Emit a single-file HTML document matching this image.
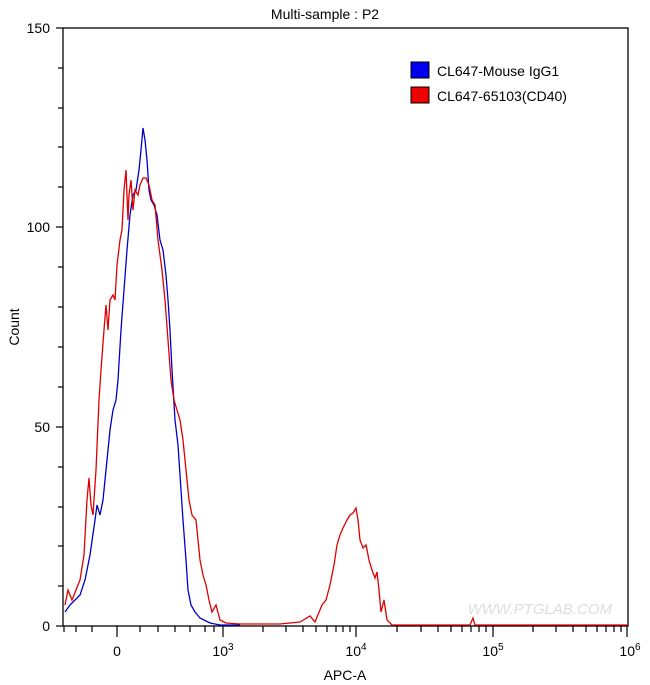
<!DOCTYPE html>
<html><head><style>body{margin:0;background:#fff}svg{display:block;font-family:"Liberation Sans",sans-serif}</style></head><body>
<svg width="650" height="685" viewBox="0 0 650 685">
<rect width="650" height="685" fill="#fff"/>
<text x="325" y="19" font-size="14" text-anchor="middle">Multi-sample : P2</text>
<rect x="63" y="28" width="565" height="598" fill="none" stroke="#000" stroke-width="1.3"/>
<g stroke="#000" stroke-width="1.2">
<line x1="56" y1="626" x2="63" y2="626"/><line x1="56" y1="427" x2="63" y2="427"/><line x1="56" y1="227" x2="63" y2="227"/><line x1="56" y1="28" x2="63" y2="28"/>
<line x1="58" y1="586" x2="63" y2="586"/><line x1="58" y1="546" x2="63" y2="546"/><line x1="58" y1="507" x2="63" y2="507"/><line x1="58" y1="467" x2="63" y2="467"/>
<line x1="58" y1="387" x2="63" y2="387"/><line x1="58" y1="347" x2="63" y2="347"/><line x1="58" y1="307" x2="63" y2="307"/><line x1="58" y1="267" x2="63" y2="267"/>
<line x1="58" y1="187" x2="63" y2="187"/><line x1="58" y1="147" x2="63" y2="147"/><line x1="58" y1="108" x2="63" y2="108"/><line x1="58" y1="68" x2="63" y2="68"/>
<line x1="117" y1="626" x2="117" y2="637"/><line x1="223" y1="626" x2="223" y2="637"/><line x1="356" y1="626" x2="356" y2="637"/><line x1="493" y1="626" x2="493" y2="637"/><line x1="627" y1="626" x2="627" y2="637"/>
<line x1="64" y1="626" x2="64" y2="632"/><line x1="76" y1="626" x2="76" y2="632"/><line x1="92" y1="626" x2="92" y2="632"/><line x1="140" y1="626" x2="140" y2="632"/><line x1="158" y1="626" x2="158" y2="632"/><line x1="175" y1="626" x2="175" y2="632"/><line x1="190" y1="626" x2="190" y2="632"/><line x1="205" y1="626" x2="205" y2="632"/><line x1="214" y1="626" x2="214" y2="632"/>
<line x1="263" y1="626" x2="263" y2="632"/><line x1="286" y1="626" x2="286" y2="632"/><line x1="303" y1="626" x2="303" y2="632"/><line x1="316" y1="626" x2="316" y2="632"/><line x1="327" y1="626" x2="327" y2="632"/><line x1="336" y1="626" x2="336" y2="632"/><line x1="343" y1="626" x2="343" y2="632"/><line x1="350" y1="626" x2="350" y2="632"/>
<line x1="397" y1="626" x2="397" y2="632"/><line x1="421" y1="626" x2="421" y2="632"/><line x1="438" y1="626" x2="438" y2="632"/><line x1="451" y1="626" x2="451" y2="632"/><line x1="462" y1="626" x2="462" y2="632"/><line x1="471" y1="626" x2="471" y2="632"/><line x1="479" y1="626" x2="479" y2="632"/><line x1="486" y1="626" x2="486" y2="632"/>
<line x1="533" y1="626" x2="533" y2="632"/><line x1="556" y1="626" x2="556" y2="632"/><line x1="573" y1="626" x2="573" y2="632"/><line x1="586" y1="626" x2="586" y2="632"/><line x1="597" y1="626" x2="597" y2="632"/><line x1="606" y1="626" x2="606" y2="632"/><line x1="614" y1="626" x2="614" y2="632"/><line x1="621" y1="626" x2="621" y2="632"/>
</g>
<g font-size="14" text-anchor="end">
<text x="50" y="631">0</text><text x="50" y="432">50</text><text x="50" y="232">100</text><text x="50" y="33">150</text>
</g>
<g font-size="14" text-anchor="middle">
<text x="117" y="656">0</text>
<text x="223" y="656">10<tspan font-size="10" dy="-6">3</tspan></text>
<text x="356" y="656">10<tspan font-size="10" dy="-6">4</tspan></text>
<text x="493" y="656">10<tspan font-size="10" dy="-6">5</tspan></text>
<text x="630" y="656">10<tspan font-size="10" dy="-6">6</tspan></text>
<text x="345" y="680">APC-A</text>
</g>
<text transform="translate(19,327) rotate(-90)" font-size="14" text-anchor="middle">Count</text>
<text x="612" y="614" font-size="15" fill="#ddd" text-anchor="end" font-style="italic">WWW.PTGLAB.COM</text>
<rect x="411" y="62" width="18" height="16" fill="#0000ee" stroke="#000"/>
<rect x="411" y="87" width="18" height="16" fill="#ee0000" stroke="#000"/>
<text x="437" y="76" font-size="14">CL647-Mouse IgG1</text>
<text x="437" y="101" font-size="14">CL647-65103(CD40)</text>
<polyline fill="none" stroke="#0000cc" stroke-width="1.3" points="65,612 70,605 75,600 80,595 85,580 90,555 95,520 97,505 100,515 103,500 106,470 110,430 113,410 116,400 118,380 121,330 124,290 127,250 130,215 133,195 136,190 139,170 141,150 143,128 145,140 147,160 149,190 151,200 154,205 157,215 160,240 163,250 166,275 168,300 170,330 172,370 175,420 178,445 181,490 183,520 186,560 188,590 191,605 195,612 200,618 210,623 220,625 240,625"/>
<polyline fill="none" stroke="#dd0000" stroke-width="1.3" points="65,605 68,590 72,600 76,590 80,580 84,555 87,500 89,478 91,505 93,515 96,470 99,400 101,370 104,330 106,305 108,330 110,300 113,295 115,300 117,265 120,240 122,230 124,190 126,170 128,220 129,195 131,180 133,210 135,190 138,195 140,185 143,178 146,178 149,185 152,200 155,205 158,240 162,270 165,300 168,340 171,380 174,400 177,410 180,420 183,440 186,470 189,500 192,515 196,520 200,560 203,575 206,585 209,600 212,612 216,605 220,620 226,623 240,624 280,624 300,622 310,616 315,622 322,605 326,600 330,585 334,565 337,545 340,535 343,528 347,520 350,515 353,513 356,508 358,520 360,540 363,548 366,545 369,560 372,570 375,578 377,572 379,590 381,612 384,600 387,620 392,625 470,625 473,618 475,625 628,625"/>
</svg>
</body></html>
